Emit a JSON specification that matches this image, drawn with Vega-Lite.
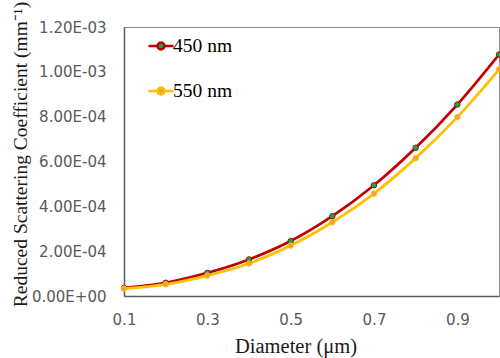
{
  "$schema": "https://vega.github.io/schema/vega-lite/v6.json",
  "width": 375,
  "height": 269,
  "autosize": "none",
  "padding": {"left": 124, "top": 27, "right": 1, "bottom": 62},
  "background": "white",
  "config": {
    "view": {"stroke": "#8C8C8C", "strokeWidth": 1},
    "axis": {"grid": false, "ticks": false, "labelFlush": false, "labelOverlap": false, "domainColor": "#595959", "domainWidth": 1.5, "labelFont": "DejaVu Sans", "labelFontSize": 15, "labelColor": "#595959", "titleFont": "Liberation Serif", "titleFontWeight": "normal", "titleColor": "#1a1a1a"}
  },
  "data": {"values": [
    {"d": 0.1, "series": "450 nm", "v": 0.000036},
    {"d": 0.2, "series": "450 nm", "v": 0.000059},
    {"d": 0.3, "series": "450 nm", "v": 0.000103},
    {"d": 0.4, "series": "450 nm", "v": 0.000163},
    {"d": 0.5, "series": "450 nm", "v": 0.000245},
    {"d": 0.6, "series": "450 nm", "v": 0.000356},
    {"d": 0.7, "series": "450 nm", "v": 0.000494},
    {"d": 0.8, "series": "450 nm", "v": 0.000661},
    {"d": 0.9, "series": "450 nm", "v": 0.000854},
    {"d": 1.0, "series": "450 nm", "v": 0.001077},
    {"d": 0.1, "series": "550 nm", "v": 0.000033},
    {"d": 0.2, "series": "550 nm", "v": 0.000052},
    {"d": 0.3, "series": "550 nm", "v": 0.000091},
    {"d": 0.4, "series": "550 nm", "v": 0.000145},
    {"d": 0.5, "series": "550 nm", "v": 0.000225},
    {"d": 0.6, "series": "550 nm", "v": 0.000329},
    {"d": 0.7, "series": "550 nm", "v": 0.000457},
    {"d": 0.8, "series": "550 nm", "v": 0.000615},
    {"d": 0.9, "series": "550 nm", "v": 0.000798},
    {"d": 1.0, "series": "550 nm", "v": 0.00101}
  ]},
  "encoding": {
    "x": {"field": "d", "type": "quantitative", "scale": {"domain": [0.1, 1.0], "nice": false, "zero": false},
      "axis": {"values": [0.1, 0.3, 0.5, 0.7, 0.9], "format": ".1f", "labelPadding": 16, "title": "Diameter (μm)", "titleFontSize": 20.5, "titleX": 171.5, "titleY": 50, "titleBaseline": "middle", "titleAlign": "center"}},
    "y": {"field": "v", "type": "quantitative", "scale": {"domain": [0, 0.0012], "nice": false},
      "axis": {"values": [0, 0.0002, 0.0004, 0.0006, 0.0008, 0.001, 0.0012], "labelPadding": 18,
        "labelExpr": "datum.value == 0 ? '0.00E+00' : (format(datum.value / pow(10, floor(log(datum.value)/LN10 + 1e-9)), '.2f') + 'E-0' + (-floor(log(datum.value)/LN10 + 1e-9)))",
        "title": "Reduced Scattering Coefficient (mm⁻¹)", "titleFontSize": 19.5, "titleAngle": -90, "titleX": -104, "titleY": 127, "titleBaseline": "middle", "titleAlign": "center"}}
  },
  "layer": [
    {
      "mark": {"type": "line", "interpolate": "catmull-rom", "strokeWidth": 2.75},
      "encoding": {
        "stroke": {"field": "series", "type": "nominal",
          "scale": {"domain": ["450 nm", "550 nm"], "range": ["#C00000", "#FFC000"]},
          "legend": {"orient": "none", "legendX": 23, "legendY": 5, "title": null,
            "symbolType": "M-1,0L-0.28,0M0.28,0L1,0M0.28,0A0.28,0.28,0,1,1,-0.28,0A0.28,0.28,0,1,1,0.28,0Z",
            "symbolSize": 625, "symbolStrokeWidth": 2.5, "labelFont": "Liberation Serif", "labelFontSize": 19.5, "labelColor": "black", "labelOffset": -2, "rowPadding": 21, "padding": 0,
            "encode": {"symbols": {"update": {"fill": {"signal": "datum.value === '450 nm' ? '#00B050' : '#F2A33A'"}, "fillOpacity": {"value": 1}, "opacity": {"value": 1}}}}}
        }
      }
    },
    {
      "mark": {"type": "point", "filled": true, "size": 30, "strokeWidth": 1, "opacity": 1},
      "encoding": {
        "stroke": {"field": "series", "type": "nominal", "legend": null},
        "fill": {"field": "series", "type": "nominal", "scale": {"domain": ["450 nm", "550 nm"], "range": ["#00B050", "#F2A33A"]}, "legend": null}
      }
    }
  ]
}
